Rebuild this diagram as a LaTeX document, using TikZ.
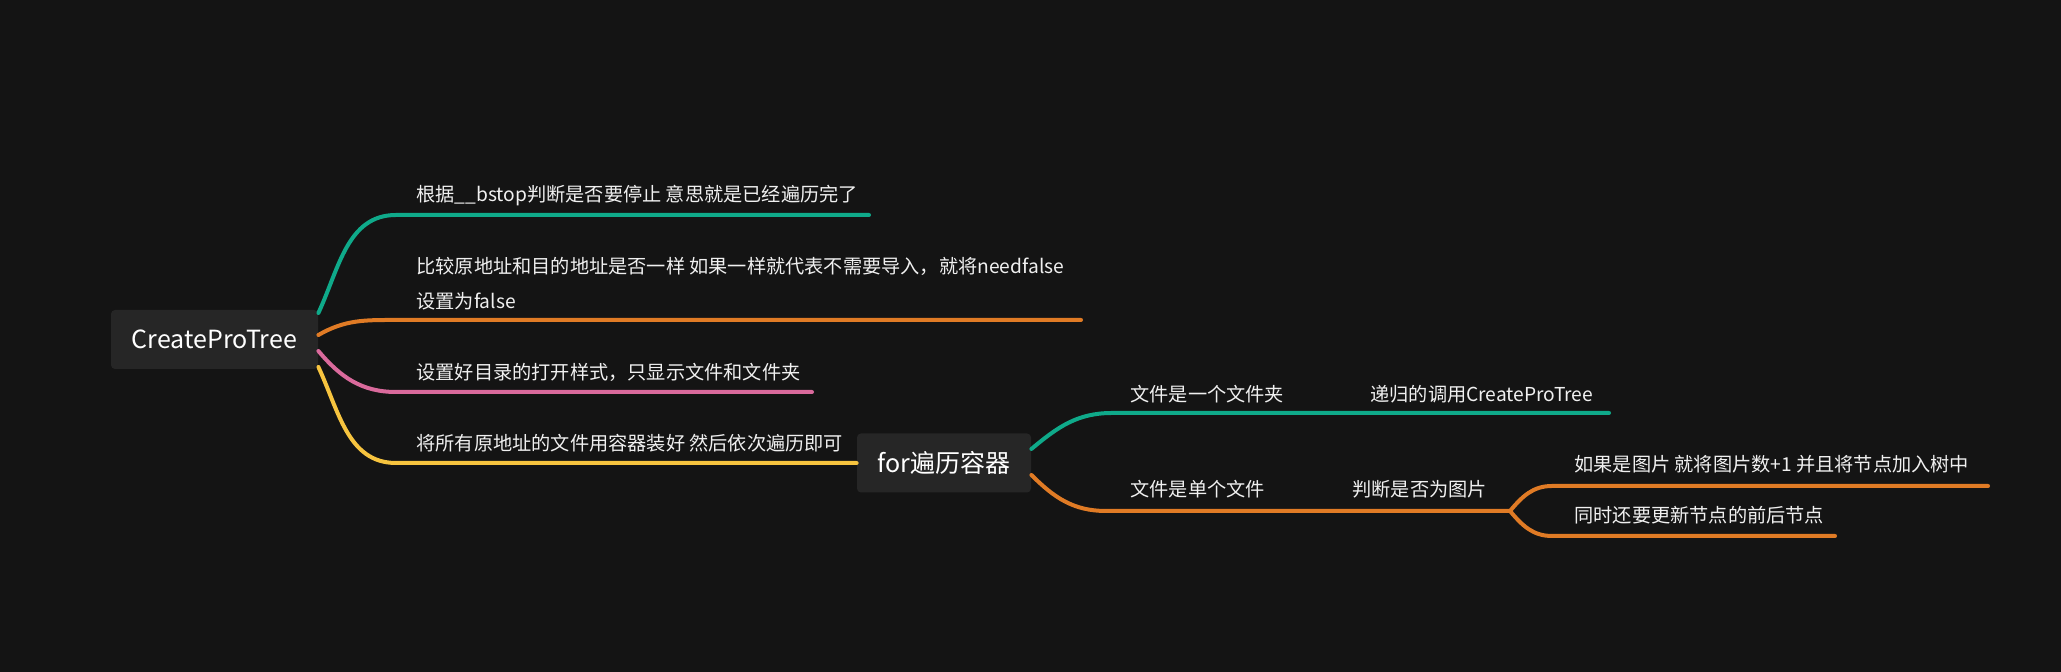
\documentclass[tikz,border=0pt]{standalone}
\usepackage{fontspec}
\setmainfont{Noto Sans CJK SC}
\definecolor{bg}{HTML}{141414}
\definecolor{boxgray}{HTML}{262626}
\definecolor{tgreen}{HTML}{0FAA8A}
\definecolor{torange}{HTML}{E07B25}
\definecolor{tpink}{HTML}{DA6A9C}
\definecolor{tyellow}{HTML}{F7C43F}
\begin{document}
\begin{tikzpicture}[x=0.5pt, y=0.5pt, line cap=round, line join=round,
	topic/.style={fill=boxgray, rounded corners=2pt, text=white, inner sep=0pt, font=\fontsize{12.5}{15}\selectfont},
	leaf/.style={anchor=base west, inner sep=0pt, align=left, text=white!94!black, font=\fontsize{9.6}{17.5}\selectfont},
	branch/.style={line width=2pt}]
	\fill[bg] (0,0) rectangle (2061,672);
	\useasboundingbox (0,0) rectangle (2061,672);
	\node[topic, minimum width=103.5pt, minimum height=29.5pt] (root) at (214.5,332.5) {CreateProTree};
	\node[topic, minimum width=87pt, minimum height=29.5pt] (loop) at (944,209) {for遍历容器};
	\coordinate (g1) at (396,457); \coordinate (g1e) at (869,457);
	\coordinate (o1) at (396,352); \coordinate (o1e) at (1081,352);
	\coordinate (p1) at (396,280); \coordinate (p1e) at (812,280);
	\coordinate (y1) at (396,209);
	\draw[branch, tgreen] ([yshift=13.25pt]root.east) to[out=65,in=180] (g1) -- (g1e);
	\draw[branch, torange] ([yshift=2.25pt]root.east) to[out=30,in=180] (o1) -- (o1e);
	\draw[branch, tpink] ([yshift=-5.75pt]root.east) to[out=-50,in=180] (p1) -- (p1e);
	\draw[branch, tyellow] ([yshift=-13.75pt]root.east) to[out=-65,in=180] (y1) -- (loop.west);
	\node[leaf] (l1) at (416,470) {根据\_\_bstop判断是否要停止 意思就是已经遍历完了};
	\node[leaf] (l2) at (416,363) {比较原地址和目的地址是否一样 如果一样就代表不需要导入，就将needfalse\\设置为false};
	\node[leaf] (l3) at (416,292) {设置好目录的打开样式，只显示文件和文件夹};
	\node[leaf] (l4) at (416,221) {将所有原地址的文件用容器装好 然后依次遍历即可};
	\coordinate (g2) at (1112,259); \coordinate (g2m) at (1294,259); \coordinate (g2e) at (1609,259);
	\coordinate (o2) at (1106,161); \coordinate (o2m) at (1297,161); \coordinate (o2e) at (1510,161);
	\coordinate (o3) at (1552,186); \coordinate (o3e) at (1988,186);
	\coordinate (o4) at (1552,136); \coordinate (o4e) at (1835,136);
	\draw[branch, tgreen] ([yshift=7pt]loop.east) to[out=40,in=180] (g2) -- (g2m) -- (g2e);
	\draw[branch, torange] ([yshift=-6pt]loop.east) to[out=-45,in=180] (o2) -- (o2m) -- (o2e);
	\draw[branch, torange] (o2e) to[out=50,in=180] (o3) -- (o3e);
	\draw[branch, torange] (o2e) to[out=-50,in=180] (o4) -- (o4e);
	\node[leaf] (l5) at (1130,270) {文件是一个文件夹};
	\node[leaf] (l6) at (1370,270) {递归的调用CreateProTree};
	\node[leaf] (l7) at (1130,175) {文件是单个文件};
	\node[leaf] (l8) at (1352,175) {判断是否为图片};
	\node[leaf] (l9) at (1574,200) {如果是图片 就将图片数+1 并且将节点加入树中};
	\node[leaf] (l10) at (1574,149) {同时还要更新节点的前后节点};
\end{tikzpicture}
\end{document}
